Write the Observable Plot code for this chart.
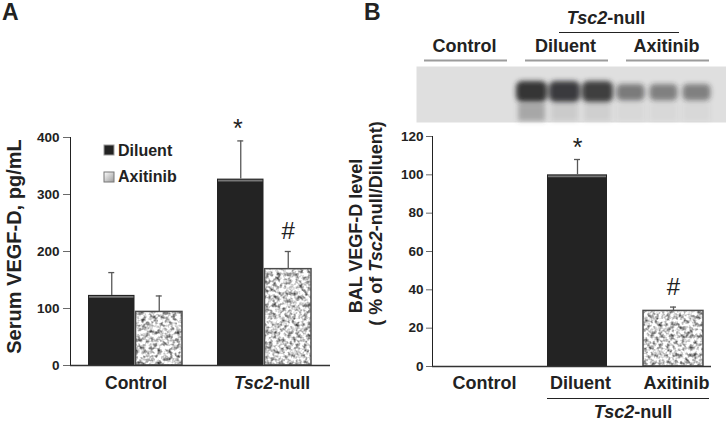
<!DOCTYPE html>
<html><head><meta charset="utf-8">
<script src="https://cdn.jsdelivr.net/npm/d3@7"></script>
<script src="https://cdn.jsdelivr.net/npm/@observablehq/plot@0.6"></script>
<style>
body{margin:0;background:#fff;font-family:"Liberation Sans",Arial,sans-serif;}
#root{position:relative;width:726px;height:425px;overflow:hidden;background:#fff;}
#root > svg, #root > div{position:absolute;}
</style></head><body>
<svg width="0" height="0" style="position:absolute;left:0;top:0">
<defs>
<filter id="speckle" x="0" y="0" width="1" height="1" color-interpolation-filters="sRGB">
 <feTurbulence type="fractalNoise" baseFrequency="0.26" numOctaves="2" seed="7" result="n"/>
 <feColorMatrix in="n" type="matrix" values="1.6 0 0 0 0.02  1.6 0 0 0 0.02  1.6 0 0 0 0.02  0 0 0 0 1" result="g"/>
 <feComposite in="g" in2="SourceGraphic" operator="in"/>
</filter>
<filter id="blur" x="-20%" y="-60%" width="140%" height="220%"><feGaussianBlur stdDeviation="2.4"/></filter>
<linearGradient id="swatchGrad" x1="0" y1="0" x2="1" y2="1">
 <stop offset="0" stop-color="#ffffff"/><stop offset="1" stop-color="#9a9a9a"/>
</linearGradient>
</defs></svg>
<div id="root"></div>
<script>
// ---------- data ----------
const groupsA = ["Control", "Tsc2-null"];
const serumDiluent = [123, 327];
const serumDiluentSD = [40, 67];
const serumAxitinib = [94, 169];
const serumAxitinibSD = [28, 31];
const sigDiluentA = ["", "*"];
const sigAxitinibA = ["", "#"];
const ticksA = [0, 100, 200, 300, 400];

const groupsB = ["Control", "Diluent", "Axitinib"];
const balMean = [0, 100, 29];
const balSD = [0, 8, 2];
const sigB = ["", "*", "#"];
const ticksB = [0, 20, 40, 60, 80, 100, 120];

const lanes = ["C1","C2","C3","D1","D2","D3","A1","A2","A3"];
const laneGroup = ["Control","Control","Control","Diluent","Diluent","Diluent","Axitinib","Axitinib","Axitinib"];
const bandIntensity = [0, 0, 0, 0.95, 0.9, 0.88, 0.55, 0.52, 0.52];
const smearIntensity = [0, 0, 0, 0.4, 0.14, 0.12, 0.05, 0.05, 0.05];
const headerGroups = ["Control", "Diluent", "Axitinib"];

// ---------- helpers ----------
const FONT = "Liberation Sans, Arial, Helvetica, sans-serif";
const baseStyle = {fontFamily: FONT, fontSize: "13.5px", fontWeight: "bold", color: "#222", background: "transparent", overflow: "visible"};
const SPECKLE = "#cdcdcd", BANDFILL = "#2a2a2b", SMEARFILL = "#555556";
const root = document.getElementById("root");
function place(el, left, top) { el.style.left = left + "px"; el.style.top = top + "px"; root.appendChild(el); return el; }
function italicize(svg) {
  svg.querySelectorAll("text, tspan").forEach(el => {
    if (el.children.length === 0 && el.textContent.includes("Tsc2")) {
      el.innerHTML = el.textContent.replace("Tsc2", '<tspan font-style="italic">Tsc2</tspan>');
    }
  });
}
function post(svg) {
  svg.querySelectorAll(`g[fill="${SPECKLE}"]`).forEach(g => g.setAttribute("filter", "url(#speckle)"));
  svg.querySelectorAll(`g[fill="${BANDFILL}"], g[fill="${SMEARFILL}"]`).forEach(g => g.setAttribute("filter", "url(#blur)"));
  svg.querySelectorAll('[aria-label^="y-axis"]').forEach(g => {
    const lab = g.getAttribute("aria-label");
    if (lab === "y-axis") g.querySelectorAll("line, path").forEach(e => e.setAttribute("stroke", "#6a6a6a"));
    else if (!lab.includes("label")) g.setAttribute("stroke", "#6a6a6a");
    g.querySelectorAll("text").forEach(t => { t.setAttribute("font-size", "13.5"); t.style.fontSize = "13.5px"; t.setAttribute("fill", "#222"); });
    if (lab.includes("label") || lab === "y-axis") { g.setAttribute("font-size", "13.5"); g.style.fontSize = "13.5px"; }
  });
  italicize(svg);
}

// ---------- Panel A ----------
const dilA = groupsA.map((g, i) => ({group: g, mean: serumDiluent[i], top: serumDiluent[i] + serumDiluentSD[i], sig: sigDiluentA[i]}));
const axiA = groupsA.map((g, i) => ({group: g, mean: serumAxitinib[i], top: serumAxitinib[i] + serumAxitinibSD[i], sig: sigAxitinibA[i]}));
const half = 47.5, cap = 3.5;
const errStroke = "#585858";
const plotA = Plot.plot({
  width: 363, height: 425, marginLeft: 70, marginRight: 33, marginTop: 137, marginBottom: 60,
  style: baseStyle,
  x: {domain: groupsA, paddingInner: 0.269, paddingOuter: 0.135, axis: null},
  y: {domain: [0, 400], ticks: ticksA, tickSize: 7, tickPadding: 4, label: null, line: true},
  marks: [
    Plot.barY(dilA, {x: "group", y: "mean", insetRight: half, fill: "#232323"}),
    Plot.tickY(dilA, {x: "group", y: "mean", insetLeft: 1, insetRight: half + 1, stroke: "#777", strokeWidth: 1.6, dy: 1.5}),
    Plot.barY(axiA, {x: "group", y: "mean", insetLeft: half, fill: SPECKLE}),
    Plot.barY(axiA, {x: "group", y: "mean", insetLeft: half, fill: "none", stroke: "#4d4d4d", strokeWidth: 1.5}),
    Plot.ruleX(dilA, {x: "group", y1: "mean", y2: "top", dx: -half / 2, stroke: errStroke, strokeWidth: 1.3}),
    Plot.tickY(dilA, {x: "group", y: "top", insetLeft: half / 2 - cap, insetRight: half * 1.5 - cap, stroke: errStroke, strokeWidth: 1.3}),
    Plot.ruleX(axiA, {x: "group", y1: "mean", y2: "top", dx: half / 2, stroke: errStroke, strokeWidth: 1.3}),
    Plot.tickY(axiA, {x: "group", y: "top", insetLeft: half * 1.5 - cap, insetRight: half / 2 - cap, stroke: errStroke, strokeWidth: 1.3}),
    Plot.ruleY([0], {stroke: "#333", strokeWidth: 1.5}),
    Plot.text(dilA.filter(d => d.sig), {x: "group", y: "top", text: "sig", dx: -half / 2 - 3, dy: -3.5, lineAnchor: "bottom", fontSize: 25, fontWeight: "normal", fill: "#222"}),
    Plot.text(axiA.filter(d => d.sig), {x: "group", y: "top", text: "sig", dx: half / 2, dy: -12.5, lineAnchor: "bottom", fontSize: 24, fontWeight: "normal", fill: "#222"}),
    Plot.text(groupsA, {x: d => d, frameAnchor: "bottom", textAnchor: "start", lineAnchor: "middle", dx: -30.5, dy: 18, fontSize: 17.5, fill: "#222"}),
    Plot.text(["Serum VEGF-D, pg/mL"], {frameAnchor: "left", textAnchor: "middle", lineAnchor: "middle", rotate: -90, dx: -56, dy: -5, fontSize: 20, fill: "#222"})
  ]
});
post(plotA); place(plotA, 0, 0);

// ---------- Panel B ----------
const dataB = groupsB.map((g, i) => ({group: g, mean: balMean[i], top: balMean[i] + balSD[i], sig: sigB[i]}));
const darkB = dataB.filter(d => d.group === "Diluent");
const speckB = dataB.filter(d => d.group === "Axitinib");
const shown = dataB.filter(d => d.mean > 0);
const plotB = Plot.plot({
  width: 363, height: 425, marginLeft: 69, marginRight: 15, marginTop: 136, marginBottom: 59,
  style: baseStyle,
  x: {domain: groupsB, paddingInner: 0.375, paddingOuter: 0.1406, align: 0.72, axis: null},
  y: {domain: [0, 120], ticks: ticksB, tickSize: 6, tickPadding: 3, label: null, line: true},
  marks: [
    Plot.barY(darkB, {x: "group", y: "mean", fill: "#232323"}),
    Plot.tickY(darkB, {x: "group", y: "mean", insetLeft: 1, insetRight: 1, stroke: "#777", strokeWidth: 1.6, dy: 1.5}),
    Plot.barY(speckB, {x: "group", y: "mean", fill: SPECKLE}),
    Plot.barY(speckB, {x: "group", y: "mean", fill: "none", stroke: "#4d4d4d", strokeWidth: 1.5}),
    Plot.ruleX(shown, {x: "group", y1: "mean", y2: "top", stroke: errStroke, strokeWidth: 1.3}),
    Plot.tickY(shown, {x: "group", y: "top", insetLeft: 27, insetRight: 27, stroke: errStroke, strokeWidth: 1.3}),
    Plot.ruleY([0], {stroke: "#333", strokeWidth: 1.5}),
    Plot.text(dataB.filter(d => d.sig === "*"), {x: "group", y: "top", text: "sig", dy: -3.5, lineAnchor: "bottom", fontSize: 25, fontWeight: "normal", fill: "#222"}),
    Plot.text(dataB.filter(d => d.sig === "#"), {x: "group", y: "top", text: "sig", dy: -12.5, lineAnchor: "bottom", fontSize: 24, fontWeight: "normal", fill: "#222"}),
    Plot.text(groupsB, {x: d => d, frameAnchor: "bottom", textAnchor: "middle", lineAnchor: "middle", dx: 3, dy: 17, fontSize: 18, fill: "#222"}),
    Plot.ruleY([0], {x1: () => "Diluent", x2: () => "Axitinib", dy: 32, insetRight: -6, stroke: "#222", strokeWidth: 1}),
    Plot.text(["Tsc2-null"], {x: () => "Diluent", frameAnchor: "bottom", textAnchor: "middle", lineAnchor: "middle", dx: 55.5, dy: 46, fontSize: 18, fill: "#222"}),
    Plot.text(["BAL VEGF-D level"], {frameAnchor: "left", textAnchor: "middle", lineAnchor: "middle", rotate: -90, dx: -76, dy: -15.5, fontSize: 18, fill: "#222"}),
    Plot.text(["( % of Tsc2-null/Diluent)"], {frameAnchor: "left", textAnchor: "middle", lineAnchor: "middle", rotate: -90, dx: -56, dy: -28, fontSize: 18, fill: "#222"})
  ]
});
post(plotB); place(plotB, 363, 0);

// ---------- Panel B header ----------
const header = Plot.plot({
  width: 363, height: 67, marginLeft: 60, marginRight: 15, marginTop: 17, marginBottom: 6,
  style: baseStyle,
  x: {domain: headerGroups, paddingInner: 0.176, paddingOuter: 0, axis: null},
  y: {type: "point", domain: ["tsc2", "tsc2line", "groups", "groupline"], padding: 0, axis: null},
  marks: [
    Plot.text(headerGroups, {x: d => d, y: () => "groups", dx: -1.5, fontSize: 18, fill: "#222"}),
    Plot.tickY(headerGroups, {x: d => d, y: () => "groupline", stroke: "#9c9c9c", strokeWidth: 2.2}),
    Plot.ruleY(["tsc2line"], {y: d => d, x1: () => "Diluent", x2: () => "Axitinib", insetLeft: 34, insetRight: 30, stroke: "#222", strokeWidth: 1}),
    Plot.text(["Tsc2-null"], {x: () => "Diluent", y: () => "tsc2", dx: 39, fontSize: 18, fill: "#222"})
  ]
});
post(header); place(header, 363, 0);

// ---------- Western blot ----------
const laneData = lanes.map((l, i) => ({lane: l, group: laneGroup[i], band: bandIntensity[i], smear: smearIntensity[i]}));
const blot = Plot.plot({
  width: 310, height: 56, margin: 0,
  style: baseStyle,
  x: {domain: lanes, paddingInner: 0, paddingOuter: 0.0725, align: 0, axis: null},
  y: {domain: ["upper", "main", "lower"], padding: 0, axis: null},
  marks: [
    Plot.frame({fill: "#dfdfdf", stroke: "none"}),
    Plot.cell(laneData.filter(d => d.group === "Diluent"), {x: "lane", y: () => "main", fill: BANDFILL, fillOpacity: "band", insetLeft: 1, insetRight: 1, insetTop: -4, insetBottom: 1, rx: 6}),
    Plot.cell(laneData.filter(d => d.group === "Axitinib"), {x: "lane", y: () => "main", fill: BANDFILL, fillOpacity: "band", insetLeft: 2.5, insetRight: 2.5, insetTop: -1, insetBottom: 2.5, rx: 5}),
    Plot.cell(laneData.filter(d => d.smear > 0), {x: "lane", y: () => "lower", fill: SMEARFILL, fillOpacity: "smear", insetLeft: 3, insetRight: 3, insetTop: 0, insetBottom: 0})
  ]
});
post(blot); place(blot, 416, 66);

// ---------- panel letters & legend ----------
const ov = d3.create("svg").attr("width", 726).attr("height", 425)
  .style("font-family", FONT).style("font-weight", "bold").style("pointer-events", "none");
ov.append("text").attr("x", 2).attr("y", 20).attr("font-size", 23).attr("fill", "#222").text("A");
ov.append("text").attr("x", 364).attr("y", 20).attr("font-size", 23).attr("fill", "#222").text("B");
const legendItems = [{label: "Diluent", fill: "#222", stroke: "#999"}, {label: "Axitinib", fill: "url(#swatchGrad)", stroke: "#777"}];
legendItems.forEach((d, i) => {
  ov.append("rect").attr("x", 104).attr("y", 145 + i * 27).attr("width", 10).attr("height", 10).attr("fill", d.fill).attr("stroke", d.stroke);
  ov.append("text").attr("x", 118).attr("y", 155.5 + i * 26.5).attr("font-size", 16).attr("fill", "#222").text(d.label);
});
place(ov.node(), 0, 0);
</script>
</body></html>
